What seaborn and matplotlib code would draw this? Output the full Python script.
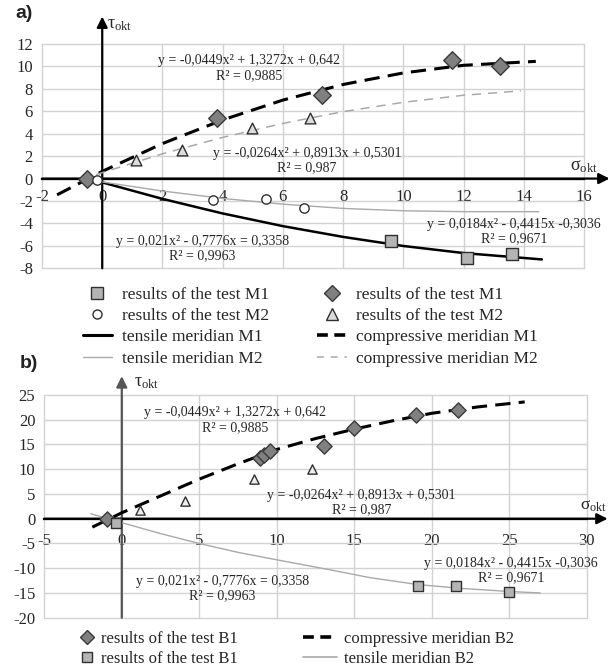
import matplotlib
matplotlib.use("Agg")
import matplotlib.pyplot as plt
import seaborn as sns
from matplotlib.lines import Line2D

# ---------------- Panel a) data (read from the picture) ----------------
a_m1_comp_x = [-0.49, 3.82, 7.30, 11.60, 13.22]      # diamonds, test M1
a_m1_comp_y = [0.00, 5.38, 7.46, 10.60, 10.08]
a_m2_comp_x = [1.13, 2.66, 4.99, 6.91]               # triangles, test M2
a_m2_comp_y = [1.66, 2.55, 4.49, 5.38]
a_m1_tens_x = [9.60, 12.11, 13.60]                   # squares, test M1
a_m1_tens_y = [-5.54, -7.12, -6.73]
a_m2_tens_x = [-0.18, 3.69, 5.43, 6.69]              # circles, test M2
a_m2_tens_y = [-0.10, -1.91, -1.82, -2.60]

a_cm1_x = [-1.5, 0, 2, 4, 6, 8, 10, 12, 14.4]        # compressive meridian M1
a_cm1_y = [-1.45, 0.64, 3.12, 5.23, 7.00, 8.39, 9.42, 10.10, 10.45]
a_cm2_x = [-0.2, 0, 2, 4, 6, 8, 10, 12, 13.9]        # compressive meridian M2
a_cm2_y = [0.35, 0.53, 2.21, 3.67, 4.92, 5.97, 6.80, 7.43, 7.82]
a_tm1_x = [0, 2, 4, 6, 8, 10, 12, 14.6]              # tensile meridian M1
a_tm1_y = [-0.34, -1.81, -3.11, -4.24, -5.20, -6.01, -6.64, -7.21]
a_tm2_x = [0, 2, 4, 6, 8, 10, 12, 14.5]              # tensile meridian M2
a_tm2_y = [-0.30, -1.11, -1.77, -2.28, -2.66, -2.87, -2.95, -2.95]

# ---------------- Panel b) data ----------------
b_b1_comp_x = [-0.97, 8.92, 9.18, 9.57, 13.07, 14.99, 18.99, 21.68]   # diamonds
b_b1_comp_y = [0.00, 12.3, 12.9, 13.7, 14.7, 18.4, 20.9, 21.96]
b_tri_x = [1.18, 4.08, 8.56, 12.3]                                    # triangles
b_tri_y = [1.76, 3.60, 8.10, 10.10]
b_b1_tens_x = [-0.37, 19.14, 21.55, 24.99]                            # squares
b_b1_tens_y = [-0.80, -13.6, -13.6, -14.9]

b_comp_x = [-1.9, 0, 2.5, 5, 7.5, 10, 12.5, 15, 17.5, 20, 23, 26]
b_comp_y = [-1.7, 1.2, 4.6, 8.0, 11.1, 14.0, 16.2, 18.1, 19.8, 21.3, 22.6, 23.6]
b_tens_x = [-2, 0, 2.5, 5, 7.5, 10, 13.4, 16, 19.1, 22, 25, 27]
b_tens_y = [1.0, -0.8, -3.0, -5.0, -6.8, -8.3, -10.3, -11.9, -13.3, -14.1, -14.7, -15.0]

# ---------------- texts ----------------
eq_comp1 = "y = -0,0449x² + 1,3272x + 0,642\nR² = 0,9885"
eq_comp2 = "y = -0,0264x² + 0,8913x + 0,5301\nR² = 0,987"
eq_tens1 = "y = 0,021x² - 0,7776x = 0,3358\nR² = 0,9963"
eq_tens2 = "y = 0,0184x² - 0,4415x -0,3036\nR² = 0,9671"

a_xticks = list(range(-2, 17, 2))
a_yticks = list(range(-8, 13, 2))
b_xticks = list(range(-5, 31, 5))
b_yticks = list(range(-20, 26, 5))

sns.set_theme(style="white")
plt.rcParams["font.family"] = ["Liberation Serif", "DejaVu Serif"]
plt.rcParams["mathtext.fontset"] = "custom"
plt.rcParams["mathtext.rm"] = "Liberation Serif"
plt.rcParams["mathtext.it"] = "Liberation Serif:italic"

GRID = "#d2d2d2"
DIA_FC, DIA_EC = "#808080", "#3a3a3a"
SQ_FC, SQ_EC = "#b4b4b4", "#303030"
TRI_FC, TRI_EC = "#dcdcdc", "#303030"
LGREY = "#a9a9a9"

fig = plt.figure(figsize=(6.08, 6.66), dpi=100)
axA = fig.add_axes([0.0691, 0.59715, 0.8914, 0.33679])
axB = fig.add_axes([0.07286, 0.07252, 0.89211, 0.33439])


def style_axes(ax, xlim, ylim, xt, yt, xpad):
    ax.set_xlim(*xlim)
    ax.set_ylim(*ylim)
    ax.set_xticks(xt)
    ax.set_yticks(yt)
    ax.set_xticklabels([str(v) for v in xt])
    ax.set_yticklabels([str(v) for v in yt])
    ax.grid(True, color=GRID, lw=1.0)
    ax.set_axisbelow(True)
    for s in ("top", "right", "left"):
        ax.spines[s].set_visible(False)
    ax.spines["bottom"].set_position(("data", 0))
    ax.spines["bottom"].set_color("black")
    ax.spines["bottom"].set_linewidth(1.6)
    ax.spines["bottom"].set_zorder(2.5)
    ax.tick_params(axis="x", length=3, width=1, color="#444444", pad=xpad,
                   labelsize=12, direction="out")
    ax.tick_params(axis="y", length=3, width=1, color=GRID, pad=3.5, labelsize=12)
    for gl in ax.get_xgridlines() + ax.get_ygridlines():
        gl.set_clip_on(False)
    ax.set_xlabel("")
    ax.set_ylabel("")


def scatter(ax, x, y, marker, fc, ec, s, label, lw=1.0):
    sns.scatterplot(x=x, y=y, ax=ax, marker=marker, color=fc, edgecolor=ec,
                    s=s, linewidth=lw, label=label, zorder=5, legend=False)


def line(ax, x, y, color, lw, dashes, label):
    sns.lineplot(x=x, y=y, ax=ax, color=color, linewidth=lw, label=label,
                 sort=False, errorbar=None, zorder=4, legend=False)
    ln = ax.lines[-1]
    if dashes is not None:
        ln.set_dashes(dashes)
    ln.set_dash_capstyle("butt")
    return ln


# ---------------- Panel a ----------------
ax = axA
line(ax, a_cm1_x, a_cm1_y, "black", 2.2, (5.0, 2.7), "compressive meridian M1")
line(ax, a_cm2_x, a_cm2_y, LGREY, 1.1, (6, 4.5), "compressive meridian M2")
line(ax, a_tm1_x, a_tm1_y, "black", 1.8, None, "tensile meridian M1")
line(ax, a_tm2_x, a_tm2_y, LGREY, 1.0, None, "tensile meridian M2")
scatter(ax, a_m1_comp_x, a_m1_comp_y, "D", DIA_FC, DIA_EC, 80, "results of the test M1")
scatter(ax, a_m2_comp_x, a_m2_comp_y, "^", TRI_FC, TRI_EC, 60, "results of the test M2")
scatter(ax, a_m1_tens_x, a_m1_tens_y, "s", SQ_FC, SQ_EC, 75, "results of the test M1")
scatter(ax, a_m2_tens_x, a_m2_tens_y, "o", "white", "#303030", 45, "results of the test M2")
style_axes(ax, (-2, 16), (-8, 12), a_xticks, a_yticks, 4.5)

arrow_kw = dict(arrowstyle="-|>", color="black", lw=1.6, mutation_scale=16,
                shrinkA=0, shrinkB=0)
ax.annotate("", xy=(0, 14.45), xytext=(0, -8), arrowprops=arrow_kw,
            annotation_clip=False, zorder=3)
ax.annotate("", xy=(16.85, 0), xytext=(-2, 0), arrowprops=arrow_kw,
            annotation_clip=False, zorder=3)
ax.text(0.15, 13.75, r"$\mathrm{\tau}_{\mathrm{okt}}$", fontsize=13, ha="left",
        va="center", clip_on=False)
ax.text(15.55, 1.05, r"$\mathrm{\sigma}_{\mathrm{okt}}$", fontsize=13, ha="left",
        va="center", clip_on=False)

tk = dict(fontsize=10, ha="center", va="center", linespacing=1.15, zorder=6)
ax.text(4.87, 9.85, eq_comp1, **tk)
ax.text(6.80, 1.62, eq_comp2, **tk)
ax.text(3.32, -6.27, eq_tens1, **tk)
ax.text(13.68, -4.75, eq_tens2, clip_on=False, **tk)

# legend a
h_sq = Line2D([], [], ls="none", marker="s", ms=8, mfc=SQ_FC, mec=SQ_EC)
h_ci = Line2D([], [], ls="none", marker="o", ms=6.5, mfc="white", mec="#303030")
h_di = Line2D([], [], ls="none", marker="D", ms=8, mfc=DIA_FC, mec=DIA_EC)
h_tr = Line2D([], [], ls="none", marker="^", ms=8, mfc=TRI_FC, mec=TRI_EC)
h_tm1 = Line2D([], [], color="black", lw=2.2)
h_tm2 = Line2D([], [], color=LGREY, lw=1.0)
h_cm1 = Line2D([], [], color="black", lw=2.6, dashes=(3.0, 1.8))
h_cm2 = Line2D([], [], color=LGREY, lw=1.1, dashes=(4.5, 4.5))
handles = [h_sq, h_ci, h_tm1, h_tm2, h_di, h_tr, h_cm1, h_cm2]
labels = ["results of the test M1", "results of the test M2",
          "tensile meridian M1", "tensile meridian M2",
          "results of the test M1", "results of the test M2",
          "compressive meridian M1", "compressive meridian M2"]
fig.legend(handles, labels, ncol=2, loc="upper left",
           bbox_to_anchor=(82.5 / 608, 1 - 286.5 / 666), bbox_transform=fig.transFigure,
           frameon=False, fontsize=12.5, borderpad=0, borderaxespad=0,
           handlelength=1.72, handletextpad=0.55, columnspacing=2.75,
           labelspacing=0.3)

# ---------------- Panel b ----------------
ax = axB
line(ax, b_comp_x, b_comp_y, "black", 2.2, (5.0, 2.7), "compressive meridian B2")
line(ax, b_tens_x, b_tens_y, LGREY, 1.0, None, "tensile meridian B2")
scatter(ax, b_b1_comp_x, b_b1_comp_y, "D", DIA_FC, DIA_EC, 60, "results of the test B1")
scatter(ax, b_tri_x, b_tri_y, "^", "#eeeeee", TRI_EC, 45, None)
scatter(ax, b_b1_tens_x, b_b1_tens_y, "s", SQ_FC, SQ_EC, 60, "results of the test B1")
style_axes(ax, (-5, 30), (-20, 25), b_xticks, b_yticks, 7.5)

ax.annotate("", xy=(0, 28.8), xytext=(0, -20),
            arrowprops=dict(arrow_kw, color="#555555"),
            annotation_clip=False, zorder=3)
ax.annotate("", xy=(31.35, 0), xytext=(-5, 0), arrowprops=arrow_kw,
            annotation_clip=False, zorder=3)
ax.text(0.8, 27.6, r"$\mathrm{\tau}_{\mathrm{okt}}$", fontsize=13, ha="left",
        va="center", clip_on=False)
ax.text(29.55, 2.6, r"$\mathrm{\sigma}_{\mathrm{okt}}$", fontsize=12.5, ha="left",
        va="center", clip_on=False)

ax.text(7.31, 19.95, eq_comp1, **tk)
ax.text(15.45, 3.28, eq_comp2, **tk)
ax.text(6.50, -14.15, eq_tens1, **tk)
ax.text(25.10, -10.45, eq_tens2, clip_on=False, **tk)

hb_di = Line2D([], [], ls="none", marker="D", ms=7, mfc=DIA_FC, mec=DIA_EC)
hb_sq = Line2D([], [], ls="none", marker="s", ms=7, mfc=SQ_FC, mec=SQ_EC)
fig.legend([hb_di, hb_sq], ["results of the test B1", "results of the test B1"],
           loc="upper left", bbox_to_anchor=(80 / 608, 1 - 631 / 666),
           bbox_transform=fig.transFigure, frameon=False, fontsize=12,
           borderpad=0, borderaxespad=0, handlelength=0.8, handletextpad=0.44,
           labelspacing=0.22)
hb_cm = Line2D([], [], color="black", lw=2.6, dashes=(3.0, 1.8))
hb_tm = Line2D([], [], color=LGREY, lw=1.2)
fig.legend([hb_cm, hb_tm], ["compressive meridian B2", "tensile meridian B2"],
           loc="upper left", bbox_to_anchor=(302.7 / 608, 1 - 631 / 666),
           bbox_transform=fig.transFigure, frameon=False, fontsize=12,
           borderpad=0, borderaxespad=0, handlelength=2.07, handletextpad=0.4,
           labelspacing=0.22)

fig.text(15 / 608, 1 - 13 / 666, "a)", fontsize=14, fontweight="bold",
         family=["Liberation Sans", "DejaVu Sans"], ha="left", va="center", color="#222222")
fig.text(20 / 608, 1 - 364 / 666, "b)", fontsize=14, fontweight="bold",
         family=["Liberation Sans", "DejaVu Sans"], ha="left", va="center", color="#222222")

fig.savefig("out.png", dpi=100)
